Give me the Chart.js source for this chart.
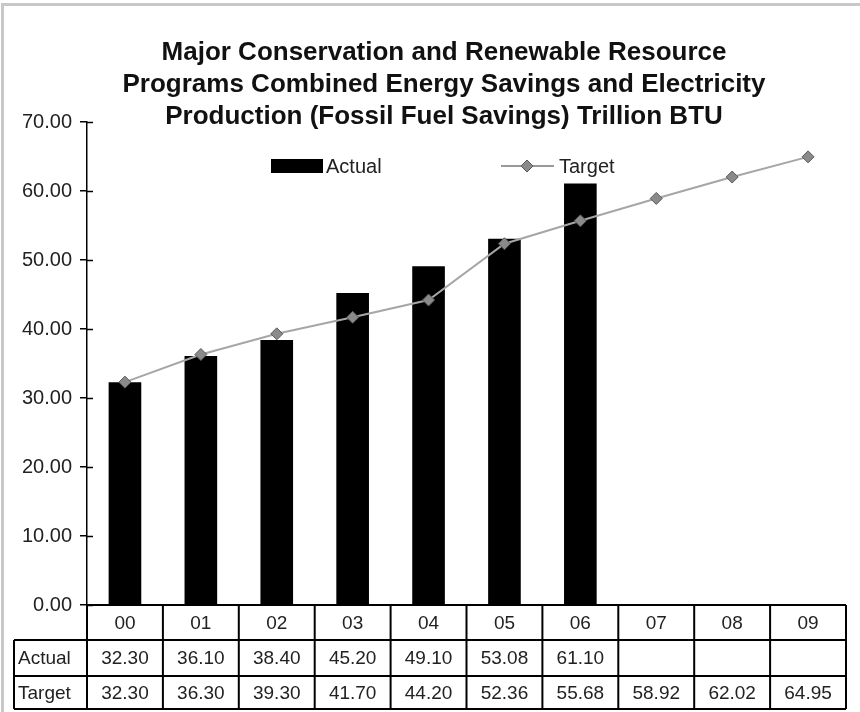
<!DOCTYPE html>
<html>
<head>
<meta charset="utf-8">
<script src="https://cdn.jsdelivr.net/npm/chart.js@4.4.0/dist/chart.umd.min.js"></script>
<style>
  html, body { margin: 0; padding: 0; background: #fff; }
  #wrap { width: 860px; height: 712px; position: relative; }
</style>
</head>
<body>
<div id="wrap"><canvas id="energyChart" width="860" height="712"></canvas></div>
<script>
// data
const years = ['00', '01', '02', '03', '04', '05', '06', '07', '08', '09'];
const actual = [32.30, 36.10, 38.40, 45.20, 49.10, 53.08, 61.10, null, null, null];
const target = [32.30, 36.30, 39.30, 41.70, 44.20, 52.36, 55.68, 58.92, 62.02, 64.95];
const titleLines = [
    'Major Conservation and Renewable Resource',
    'Programs Combined Energy Savings and Electricity',
    'Production (Fossil Fuel Savings) Trillion BTU'
];

const FONT = '"Liberation Sans", Arial, sans-serif';
const TEXT = '#222';

// title, legend, crossing ticks, data table and frame
const extras = {
    id: 'extras',
    afterDraw(chart) {
        const ctx = chart.ctx;
        const x = chart.scales.x;
        const y = chart.scales.y;
        const area = chart.chartArea;
        ctx.save();

        // frame (top and left edge)
        ctx.strokeStyle = '#c8c8c8';
        ctx.lineWidth = 3;
        ctx.beginPath();
        ctx.moveTo(2.5, 712);
        ctx.lineTo(2.5, 4.5);
        ctx.lineTo(860, 4.5);
        ctx.stroke();

        // title
        ctx.fillStyle = '#111';
        ctx.font = 'bold 26px ' + FONT;
        ctx.textAlign = 'center';
        ctx.textBaseline = 'middle';
        titleLines.forEach((t, i) => ctx.fillText(t, 444, 53 + i * 32));

        // legend
        ctx.font = '20px ' + FONT;
        ctx.textAlign = 'left';
        ctx.fillStyle = '#000';
        ctx.fillRect(271, 159, 52, 14);
        ctx.fillStyle = TEXT;
        ctx.fillText(chart.data.datasets[0].label, 326, 167);
        ctx.strokeStyle = '#999';
        ctx.lineWidth = 2;
        ctx.beginPath();
        ctx.moveTo(501, 166);
        ctx.lineTo(554, 166);
        ctx.stroke();
        ctx.fillStyle = '#8a8a8a';
        ctx.strokeStyle = '#5a5a5a';
        ctx.lineWidth = 1;
        ctx.beginPath();
        ctx.moveTo(527, 160); ctx.lineTo(533, 166); ctx.lineTo(527, 172); ctx.lineTo(521, 166);
        ctx.closePath();
        ctx.fill();
        ctx.stroke();
        ctx.fillStyle = TEXT;
        ctx.fillText(chart.data.datasets[1].label, 559, 167);

        // tick marks crossing the axis
        ctx.strokeStyle = '#000';
        ctx.lineWidth = 1.5;
        y.ticks.forEach(t => {
            const py = Math.round(y.getPixelForValue(t.value)) + 0.5;
            ctx.beginPath();
            ctx.moveTo(area.left, py);
            ctx.lineTo(area.left + 6, py);
            ctx.stroke();
        });

        // data table
        const colW = x.width / years.length;
        const rows = [area.bottom, area.bottom + 35, area.bottom + 71, area.bottom + 104];
        const labelLeft = 14;
        ctx.strokeStyle = '#000';
        ctx.lineWidth = 2;
        ctx.beginPath();
        // horizontal lines
        ctx.moveTo(area.left, rows[0]); ctx.lineTo(area.right, rows[0]);
        for (let r = 1; r < rows.length; r++) {
            ctx.moveTo(labelLeft, rows[r]); ctx.lineTo(area.right, rows[r]);
        }
        // vertical lines
        ctx.moveTo(labelLeft, rows[1]); ctx.lineTo(labelLeft, rows[3]);
        for (let i = 0; i <= years.length; i++) {
            const px = area.left + i * colW;
            ctx.moveTo(px, rows[0]); ctx.lineTo(px, rows[3]);
        }
        ctx.stroke();

        ctx.fillStyle = TEXT;
        ctx.font = '19px ' + FONT;
        ctx.textAlign = 'center';
        ctx.textBaseline = 'middle';
        const mid = r => (rows[r] + rows[r + 1]) / 2 + 1;
        years.forEach((yr, i) => {
            const cx = x.getPixelForValue(i);
            ctx.fillText(yr, cx, mid(0));
            if (actual[i] !== null) ctx.fillText(actual[i].toFixed(2), cx, mid(1));
            ctx.fillText(target[i].toFixed(2), cx, mid(2));
        });
        ctx.textAlign = 'left';
        ctx.fillText('Actual', 18, mid(1));
        ctx.fillText('Target', 18, mid(2));

        ctx.restore();
    }
};

new Chart(document.getElementById('energyChart').getContext('2d'), {
    type: 'bar',
    data: {
        labels: years,
        datasets: [{
            type: 'bar',
            label: 'Actual',
            data: actual,
            backgroundColor: '#000',
            borderWidth: 0,
            categoryPercentage: 1,
            barPercentage: 0.43,
            order: 2
        }, {
            type: 'line',
            label: 'Target',
            data: target,
            borderColor: '#a6a6a6',
            borderWidth: 2,
            pointStyle: 'rectRot',
            pointRadius: 6,
            pointBackgroundColor: '#8a8a8a',
            pointBorderColor: '#5a5a5a',
            pointBorderWidth: 1,
            tension: 0,
            order: 1
        }]
    },
    options: {
        responsive: false,
        animation: false,
        layout: { padding: { left: 0, right: 14, top: 122, bottom: 107 } },
        plugins: {
            legend: { display: false },
            title: { display: false },
            tooltip: { enabled: false }
        },
        scales: {
            x: { display: false, offset: true },
            y: {
                min: 0,
                max: 70,
                afterFit(scale) { scale.width = 87; },
                ticks: {
                    stepSize: 10,
                    padding: 8,
                    color: TEXT,
                    font: { family: FONT, size: 20 },
                    callback: v => v.toFixed(2)
                },
                grid: { drawOnChartArea: false, tickLength: 7, color: '#000', lineWidth: 1.5 },
                border: { display: true, color: '#000', width: 1.5 }
            }
        }
    },
    plugins: [extras]
});
</script>
</body>
</html>
